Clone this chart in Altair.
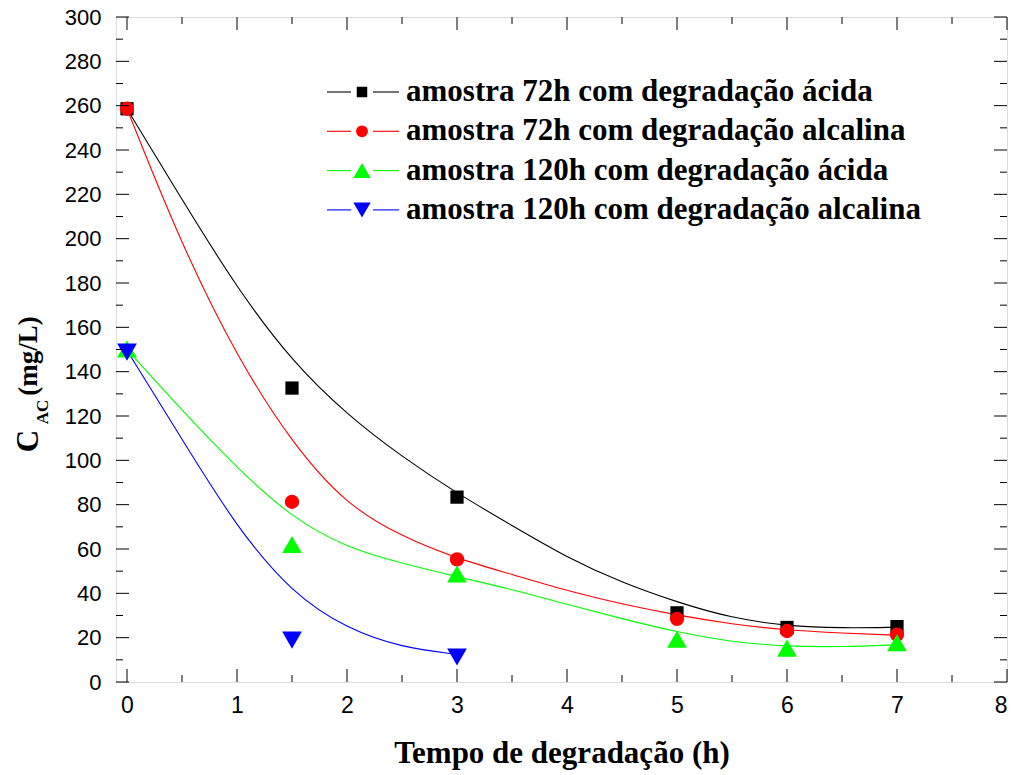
import altair as alt
import pandas as pd

# ---- series ---------------------------------------------------------------
SERIES = [
    "amostra 72h com degradação ácida",
    "amostra 72h com degradação alcalina",
    "amostra 120h com degradação ácida",
    "amostra 120h com degradação alcalina",
]
COLORS = ["#000000", "#FF0000", "#00FF00", "#0000FF"]
SHAPES = ["square", "circle", "triangle-up", "triangle-down"]
SIZES = [175, 205, 390, 390]
LEGEND_SIZES = [110, 140, 300, 300]

# measured concentrations (mg/L) vs degradation time (h)
t_72_acida = [0, 1.5, 3, 5, 6, 7]
c_72_acida = [258.6, 132.6, 83.4, 31.2, 24.6, 25.0]
t_72_alcalina = [0, 1.5, 3, 5, 6, 7]
c_72_alcalina = [258.6, 81.3, 55.3, 28.5, 23.0, 21.4]
t_120_acida = [0, 1.5, 3, 5, 6, 7]
c_120_acida = [150.2, 62.0, 48.7, 19.3, 15.3, 17.7]
t_120_alcalina = [0, 1.5, 3]
c_120_alcalina = [148.8, 18.9, 11.3]

# fitted curves
fit_t = [0, 0.5, 1.0, 1.5, 2.0, 2.5, 3.0, 3.5, 4.0, 4.5, 5.0, 5.5, 6.0, 6.5, 7.0]
fit_72_acida = [258.6, 217.6, 177.6, 144.6, 120.6, 101.6, 85.1, 70.6, 56.1, 44.8, 36.0, 28.8, 25.2, 24.3, 24.7]
fit_72_alcalina = [258.6, 196.6, 146.6, 107.6, 79.6, 65.6, 55.6, 48.6, 41.1, 35.1, 30.1, 26.1, 23.3, 22.1, 21.1]
fit_120_acida = [150, 122.5, 96.5, 74, 60.5, 53.5, 47.5, 41.8, 35, 28.5, 22.5, 18, 16, 15.8, 16.8]
fit_t_120_alcalina = [0, 0.5, 1.0, 1.5, 2.0, 2.5, 3.0]
fit_120_alcalina = [149.6, 109.5, 69.5, 40, 24, 15.5, 12.5]

# axis ticks
x_major = [0, 1, 2, 3, 4, 5, 6, 7, 8]
x_minor = [0.5, 1.5, 2.5, 3.5, 4.5, 5.5, 6.5, 7.5]
y_major = list(range(0, 301, 20))
y_minor = list(range(10, 300, 20))

# ---- tables ---------------------------------------------------------------
def long(names, ts, cs):
    rows = []
    for n, t, c in zip(names, ts, cs):
        rows += [{"serie": n, "t": a, "c": b} for a, b in zip(t, c)]
    return pd.DataFrame(rows)

points = long(SERIES,
              [t_72_acida, t_72_alcalina, t_120_acida, t_120_alcalina],
              [c_72_acida, c_72_alcalina, c_120_acida, c_120_alcalina])
curves = long(SERIES,
              [fit_t, fit_t, fit_t, fit_t_120_alcalina],
              [fit_72_acida, fit_72_alcalina, fit_120_acida, fit_120_alcalina])

# ---- layout -----------------------------------------------------------------
W, H = 891, 665
MAJ, MIN = 13, 7
SERIF = "Liberation Serif"
SANS = "Liberation Sans"

XS = alt.Scale(domain=[-0.1, 8], nice=False, zero=False)
YS = alt.Scale(domain=[0, 300], nice=False)
X_AXIS = alt.Axis(values=x_major, format="d", grid=False, ticks=False, domain=False,
                  labelFont=SANS, labelFontSize=23, labelColor="black", labelPadding=12,
                  title="Tempo de degradação (h)", titleFont=SERIF, titleFontSize=31,
                  titleFontWeight="bold", titleColor="black", titlePadding=21)
Y_AXIS = alt.Axis(values=y_major, format="d", grid=False, ticks=False, domain=False,
                  labelFont=SANS, labelFontSize=22, labelColor="black", labelPadding=15,
                  title=None)

color = alt.Color("serie:N", scale=alt.Scale(domain=SERIES, range=COLORS), legend=None)

lines = alt.Chart(curves).mark_line(strokeWidth=1.1, interpolate="basis").encode(
    x=alt.X("t:Q", scale=XS, axis=X_AXIS),
    y=alt.Y("c:Q", scale=YS, axis=Y_AXIS),
    color=color, detail="serie:N",
)

# one marker layer per series, drawn in series order
marks = [
    alt.Chart(points).transform_filter(alt.datum.serie == name).mark_point(
        shape=shp, size=sz, color=col, filled=True, opacity=1).encode(
        x=alt.X("t:Q", scale=XS, axis=X_AXIS),
        y=alt.Y("c:Q", scale=YS, axis=Y_AXIS),
    )
    for name, col, shp, sz in zip(SERIES, COLORS, SHAPES, SIZES)
]

# inward ticks on all four sides
def xticks(vals, length):
    d = pd.DataFrame({"t": vals})
    enc = dict(x=alt.X("t:Q", scale=XS, axis=X_AXIS))
    bottom = alt.Chart(d).mark_rule(color="black", strokeWidth=1).encode(
        y=alt.value(H), y2=alt.value(H - length), **enc)
    top = alt.Chart(d).mark_rule(color="black", strokeWidth=1).encode(
        y=alt.value(0), y2=alt.value(length), **enc)
    return [bottom, top]

def yticks(vals, length):
    d = pd.DataFrame({"c": vals})
    enc = dict(y=alt.Y("c:Q", scale=YS, axis=Y_AXIS))
    left = alt.Chart(d).mark_rule(color="black", strokeWidth=1).encode(
        x=alt.value(0), x2=alt.value(length), **enc)
    right = alt.Chart(d).mark_rule(color="black", strokeWidth=1).encode(
        x=alt.value(W - length), x2=alt.value(W), **enc)
    return [left, right]

ticks = xticks(x_major, MAJ) + xticks(x_minor, MIN) + yticks(y_major, MAJ) + yticks(y_minor, MIN)

# y-axis title with subscript
def ytitle(txt, size, px, py):
    return alt.Chart(pd.DataFrame({"s": [txt]})).mark_text(
        angle=270, align="center", baseline="middle", font=SERIF,
        fontWeight="bold", fontSize=size, color="black").encode(
        x=alt.value(px), y=alt.value(py), text="s:N")

title_parts = [
    ytitle("C", 31, -87, 424),
    ytitle("AC", 17, -73, 395),
    ytitle("(mg/L)", 27, -87, 339),
]

# legend: line - marker - line, then label
LEG_TOP, LEG_DY = 75, 39.3
LX = (211, 235, 246, 257, 283, 290)
legend = []
for i, (name, col, shp, sz) in enumerate(zip(SERIES, COLORS, SHAPES, LEGEND_SIZES)):
    ly = LEG_TOP + i * LEG_DY
    d = pd.DataFrame({"serie": [name]})
    legend += [
        alt.Chart(d).mark_rule(color=col, strokeWidth=1.1).encode(
            x=alt.value(LX[0]), x2=alt.value(LX[1]), y=alt.value(ly)),
        alt.Chart(d).mark_rule(color=col, strokeWidth=1.1).encode(
            x=alt.value(LX[3]), x2=alt.value(LX[4]), y=alt.value(ly)),
        alt.Chart(d).mark_point(shape=shp, filled=True, opacity=1, size=sz, color=col).encode(
            x=alt.value(LX[2]), y=alt.value(ly)),
        alt.Chart(d).mark_text(align="left", baseline="middle", font=SERIF, fontWeight="bold",
                               fontSize=31, color="black").encode(
            x=alt.value(LX[5]), y=alt.value(ly), text="serie:N"),
    ]

chart = alt.layer(lines, *marks, *ticks, *title_parts, *legend).properties(
    width=W, height=H,
    autosize=alt.AutoSizeParams(type="none"),
    padding={"left": 116, "top": 17, "right": 13, "bottom": 93},
).configure_view(stroke="black", strokeWidth=1.5).configure(background="white")

chart.save("out.html", embed_options={"renderer": "svg", "actions": False})
